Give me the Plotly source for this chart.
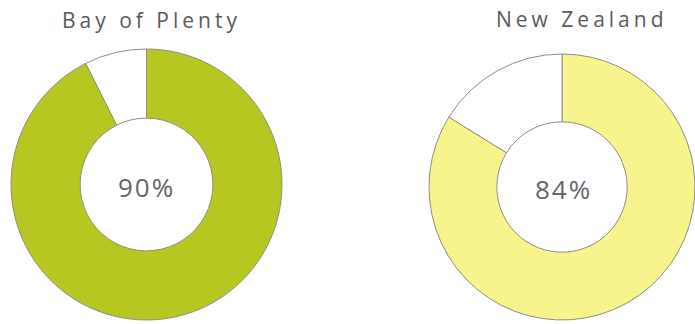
import plotly.graph_objects as go

# Data
regions = ["Bay of Plenty", "New Zealand"]
slice_labels = ["Yes", "No"]
bop_values = [92.6, 7.4]
nz_values = [83.8, 16.2]
center_labels = ["90%", "84%"]

W, H = 695, 324
green = "#b7c722"
yellow = "#f7f38d"
edge = "#8f8f80"

def px_x(x):
    return x / W

def px_y(y):
    return 1 - y / H

fig = go.Figure()
fig.add_trace(go.Pie(
    labels=slice_labels, values=bop_values, hole=0.49, sort=False,
    direction="clockwise", rotation=0, textinfo="none", hoverinfo="label+percent",
    marker=dict(colors=[green, "#ffffff"], line=dict(color=edge, width=1)),
    domain=dict(x=[px_x(11), px_x(282)], y=[px_y(320), px_y(49)]),
    showlegend=False,
))
fig.add_trace(go.Pie(
    labels=slice_labels, values=nz_values, hole=0.49, sort=False,
    direction="clockwise", rotation=0, textinfo="none", hoverinfo="label+percent",
    marker=dict(colors=[yellow, "#ffffff"], line=dict(color=edge, width=1)),
    domain=dict(x=[px_x(429), 1.0], y=[px_y(320), px_y(54)]),
    showlegend=False,
))

title_font = dict(family="Open Sans", size=21, color="#5a5a5a")
center_font = dict(family="Open Sans", size=26, color="#666666")
annotations = [
    dict(text=regions[0], x=px_x(151), y=px_y(20), font=title_font),
    dict(text=regions[1], x=px_x(582), y=px_y(19), font=title_font),
    dict(text=center_labels[0], x=px_x(146), y=px_y(187), font=center_font),
    dict(text=center_labels[1], x=px_x(563), y=px_y(189), font=center_font),
]
for a in annotations:
    a.update(xref="paper", yref="paper", showarrow=False, xanchor="center", yanchor="middle")

fig.update_layout(
    width=W, height=H,
    margin=dict(l=0, r=0, t=0, b=0),
    paper_bgcolor="#ffffff", plot_bgcolor="#ffffff",
    annotations=annotations,
)

post = """
document.querySelectorAll('.annotation-text').forEach(function(e){
  var t = e.textContent;
  e.setAttribute('letter-spacing', (t.indexOf('%')>=0) ? '2px' : '4px');
});
"""
fig.write_html("out.html", post_script=post)
